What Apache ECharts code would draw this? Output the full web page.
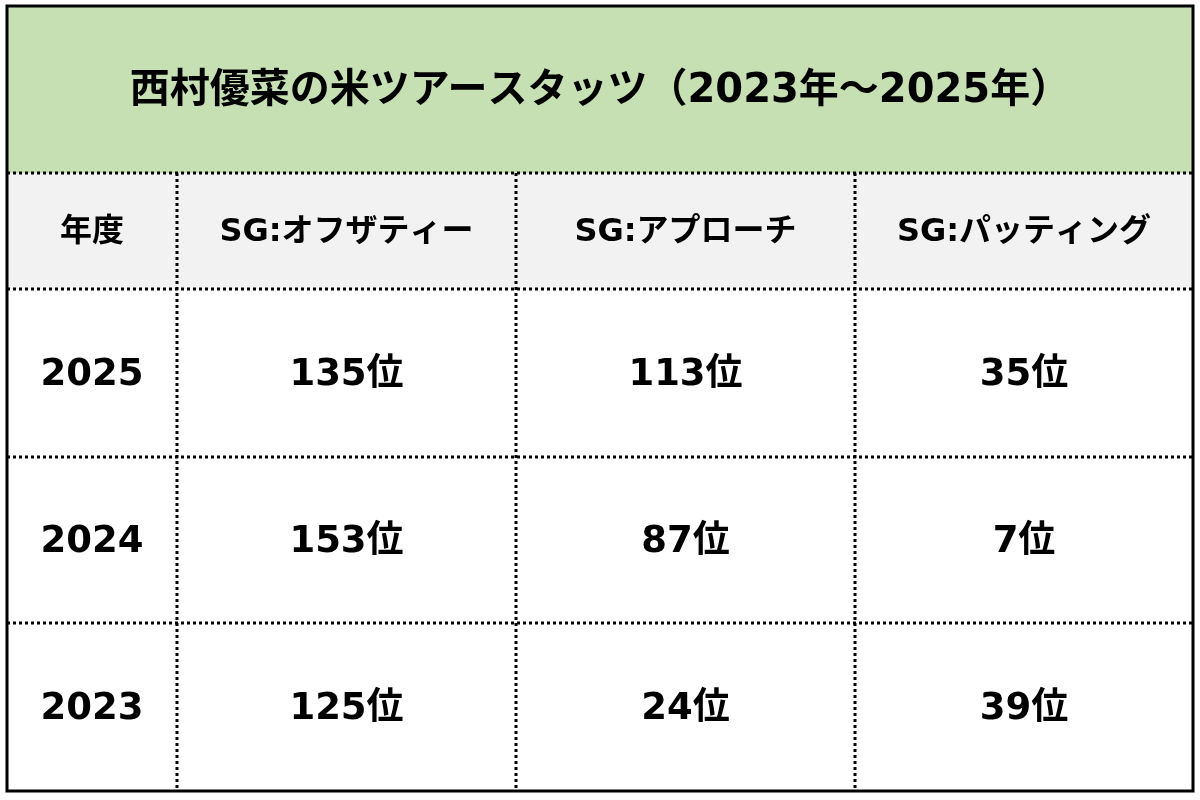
<!DOCTYPE html>
<html><head><meta charset="utf-8">
<script src="https://cdn.jsdelivr.net/npm/echarts@6/dist/echarts.min.js"></script>
<style>html,body{margin:0;background:#fff}#c{width:1200px;height:800px}</style>
</head><body><div id="c"></div>
<script>
const title = '西村優菜の米ツアースタッツ（2023年～2025年）';
const headers = ['年度', 'SG:オフザティー', 'SG:アプローチ', 'SG:パッティング'];
const years = ['2025', '2024', '2023'];
const offTee = ['135位', '153位', '125位'];
const approach = ['113位', '87位', '24位'];
const putting = ['35位', '7位', '39位'];

const colX = [7, 177, 516, 855, 1193];
const rowY = [6, 173, 289, 457, 623, 791];
const font = '"DejaVu Sans", "Noto Sans CJK JP", sans-serif';
const dot = {stroke: '#000', lineWidth: 3, lineDash: [3, 3]};

const els = [];
els.push({type: 'rect', shape: {x: colX[0], y: rowY[0], width: colX[4] - colX[0], height: rowY[1] - rowY[0]}, style: {fill: '#c6e0b4'}});
els.push({type: 'rect', shape: {x: colX[0], y: rowY[1], width: colX[4] - colX[0], height: rowY[2] - rowY[1]}, style: {fill: '#f2f2f2'}});
els.push({type: 'text', x: 600, y: (rowY[0] + rowY[1]) / 2 + 2, style: {text: title, font: 'bold 40px ' + font, fill: '#000', align: 'center', verticalAlign: 'middle'}});

const rows = [headers].concat(years.map((y, i) => [y, offTee[i], approach[i], putting[i]]));
rows.forEach((r, ri) => {
  r.forEach((t, ci) => {
    els.push({type: 'text', x: (colX[ci] + colX[ci + 1]) / 2, y: (rowY[ri + 1] + rowY[ri + 2]) / 2 + 2,
      style: {text: t, font: (ri === 0 ? 'bold 32px ' : 'bold 37px ') + font, fill: '#000', align: 'center', verticalAlign: 'middle'}});
  });
});
for (let k = 1; k < rowY.length - 1; k++) {
  els.push({type: 'line', shape: {x1: colX[0], y1: rowY[k], x2: colX[4], y2: rowY[k]}, style: dot});
}
for (let k = 1; k < colX.length - 1; k++) {
  els.push({type: 'line', shape: {x1: colX[k], y1: rowY[1], x2: colX[k], y2: rowY[5]}, style: dot});
}
els.push({type: 'rect', shape: {x: colX[0], y: rowY[0], width: colX[4] - colX[0], height: rowY[5] - rowY[0]}, style: {fill: 'none', stroke: '#000', lineWidth: 3}});

const chart = echarts.init(document.getElementById('c'));
chart.setOption({graphic: {elements: els}});
</script></body></html>
